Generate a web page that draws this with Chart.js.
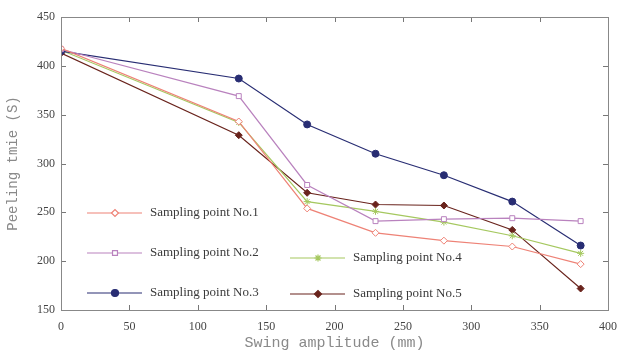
<!DOCTYPE html>
<html>
<head>
<meta charset="utf-8">
<script src="https://cdn.jsdelivr.net/npm/chart.js@4/dist/chart.umd.min.js"></script>
<style>
  html, body { margin: 0; padding: 0; background: #fff; }
  #wrap { width: 621px; height: 352px; position: relative; }
</style>
</head>
<body>
<div id="wrap"><canvas id="chart"></canvas></div>
<script>
// swing amplitude (mm)
const amplitude = [0, 130, 180, 230, 280, 330, 380];
// peeling time (S) per sampling point
const point1 = [418, 343, 254, 229, 221, 215, 197];
const point2 = [417, 369, 278, 241, 243, 244, 241];
const point3 = [415, 387, 340, 310, 288, 261, 216];
const point4 = [416, 342, 261, 251, 240, 226, 208];
const point5 = [413, 329, 270, 258, 257, 232, 172];
const seriesNames = ['Sampling point No.1', 'Sampling point No.2', 'Sampling point No.3',
                     'Sampling point No.4', 'Sampling point No.5'];
const xTicks = [0, 50, 100, 150, 200, 250, 300, 350, 400];
const yTicks = [150, 200, 250, 300, 350, 400, 450];

const looks = [
  { color: 'rgb(238,130,118)', style: 'rectRot', fill: false },
  { color: 'rgb(185,130,190)', style: 'rect', fill: false },
  { color: 'rgb(40,45,115)', style: 'circle', fill: true },
  { color: 'rgb(165,200,95)', style: 'star', fill: false },
  { color: 'rgb(105,35,28)', style: 'rectRot', fill: true }
];

function toPoints(vals) {
  return amplitude.map((a, i) => ({ x: a, y: vals[i] }));
}

const allSeries = [point1, point2, point3, point4, point5];
const datasets = allSeries.map((vals, i) => ({
  label: seriesNames[i],
  data: toPoints(vals),
  borderColor: looks[i].color,
  backgroundColor: looks[i].fill ? looks[i].color : '#fff',
  pointStyle: looks[i].style,
  pointRadius: 3.5,
  pointBorderWidth: 1,
  borderWidth: 1.2,
  tension: 0
}));

// MATLAB-ish inward ticks on all four sides
const innerTicks = {
  id: 'innerTicks',
  afterDraw(c) {
    const ctx = c.ctx, a = c.chartArea;
    const xs = c.scales.x, ys = c.scales.y;
    ctx.save();
    ctx.strokeStyle = '#777';
    ctx.lineWidth = 1;
    ctx.beginPath();
    xTicks.forEach(v => {
      const px = Math.round(xs.getPixelForValue(v)) + 0.5;
      ctx.moveTo(px, a.bottom); ctx.lineTo(px, a.bottom - 5);
      ctx.moveTo(px, a.top); ctx.lineTo(px, a.top + 5);
    });
    yTicks.forEach(v => {
      const py = Math.round(ys.getPixelForValue(v)) + 0.5;
      ctx.moveTo(a.left, py); ctx.lineTo(a.left + 5, py);
      ctx.moveTo(a.right, py); ctx.lineTo(a.right - 5, py);
    });
    ctx.stroke();
    ctx.strokeStyle = '#888';
    ctx.strokeRect(a.left + 0.5, a.top + 0.5, a.right - a.left, a.bottom - a.top);
    ctx.restore();
  }
};

// legend laid out in two columns inside the plot
const boxLegend = {
  id: 'boxLegend',
  afterDraw(c) {
    const ctx = c.ctx;
    const spots = [
      { x: 87, y: 213 }, { x: 87, y: 253 }, { x: 87, y: 293 },
      { x: 290, y: 258 }, { x: 290, y: 294 }
    ];
    ctx.save();
    ctx.font = '13px "Liberation Serif"';
    ctx.textBaseline = 'middle';
    c.data.datasets.forEach((ds, i) => {
      const s = spots[i];
      ctx.strokeStyle = ds.borderColor;
      ctx.lineWidth = 1.2;
      ctx.beginPath();
      ctx.moveTo(s.x, s.y); ctx.lineTo(s.x + 55, s.y);
      ctx.stroke();
      ctx.fillStyle = ds.backgroundColor;
      Chart.helpers.drawPoint(ctx, { pointStyle: ds.pointStyle, radius: 3.5, rotation: 0, borderWidth: 1 }, s.x + 28, s.y);
      ctx.fillStyle = '#3a3a3a';
      ctx.fillText(ds.label, s.x + 63, s.y);
    });
    ctx.restore();
  }
};

new Chart(document.getElementById('chart'), {
  type: 'line',
  data: { datasets: datasets },
  options: {
    responsive: true,
    maintainAspectRatio: false,
    animation: false,
    layout: { padding: { left: 0, top: 17, right: 13, bottom: 0 } },
    plugins: { legend: { display: false }, tooltip: { enabled: false } },
    scales: {
      x: {
        type: 'linear',
        min: 0, max: 400,
        afterFit(s) { s.height = 42; s.paddingLeft = 0; s.paddingRight = 0; },
        afterBuildTicks(s) { s.ticks = xTicks.map(v => ({ value: v })); },
        grid: { display: false, drawTicks: false },
        border: { display: false },
        ticks: { padding: 10, color: '#444', font: { family: 'Liberation Serif', size: 12 } },
        title: {
          display: true, text: 'Swing amplitude (mm)', color: '#8a8a8a',
          padding: { top: 0, bottom: 0 },
          font: { family: 'Liberation Mono', size: 15 }
        }
      },
      y: {
        min: 150, max: 450,
        afterFit(s) { s.width = 61; s.paddingTop = 0; s.paddingBottom = 0; },
        afterBuildTicks(s) { s.ticks = yTicks.map(v => ({ value: v })); },
        grid: { display: false, drawTicks: false },
        border: { display: false },
        ticks: { padding: 6, color: '#444', font: { family: 'Liberation Serif', size: 12 } },
        title: {
          display: true, text: 'Peeling tmie (S)', color: '#8a8a8a',
          padding: { top: 5, bottom: 0 },
          font: { family: 'Liberation Mono', size: 14 }
        }
      }
    }
  },
  plugins: [innerTicks, boxLegend]
});
</script>
</body>
</html>
